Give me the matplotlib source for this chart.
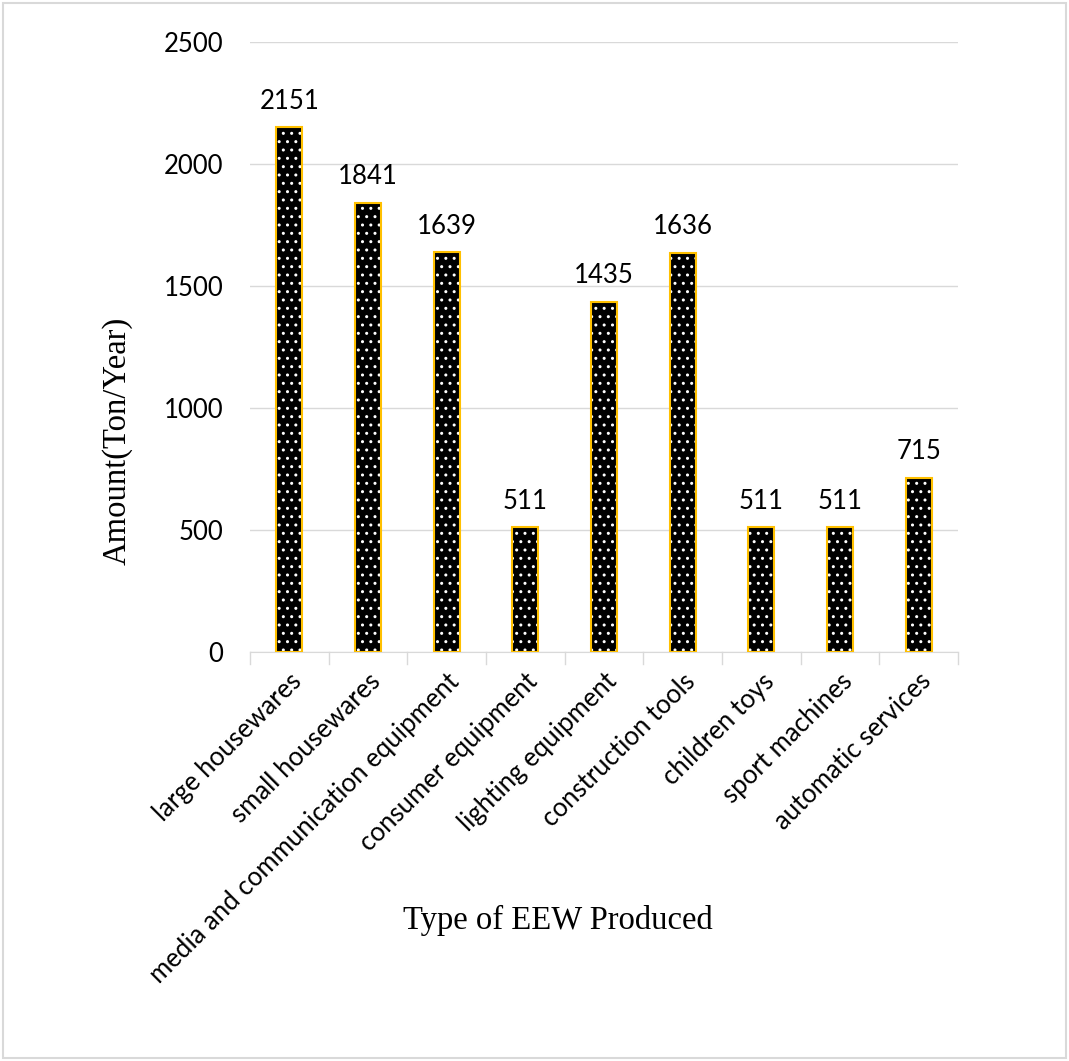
import matplotlib
matplotlib.use("Agg")
import matplotlib.pyplot as plt
from matplotlib.patches import Rectangle
import numpy as np

categories = ["large housewares", "small housewares", "media and communication equipment",
              "consumer equipment", "lighting equipment", "construction tools",
              "children toys", "sport machines", "automatic services"]
values = [2151, 1841, 1639, 511, 1435, 1636, 511, 511, 715]
yticks = [0, 500, 1000, 1500, 2000, 2500]

W, H = 1069, 1061
fig = plt.figure(figsize=(W/100, H/100), dpi=100)
ax = fig.add_axes([250/W, 1 - 652/H, (958-250)/W, (652-42)/H])

x = np.arange(len(categories))
bw = 0.33
ax.bar(x, values, width=bw, color="black", edgecolor="none", zorder=2)
ax.bar(x, values, width=bw, color="none", edgecolor="white", hatch="..", linewidth=0, zorder=3)
ax.bar(x, values, width=bw, color="none", edgecolor="#FFC000", linewidth=1.5, zorder=4)

tick_font = "Lato"
fs = 18.5
for xi, v in zip(x, values):
    ax.text(xi, v + 55, str(v), ha="center", va="bottom", fontsize=fs, family=tick_font)

ax.set_xlim(-0.5, len(categories) - 0.5)
ax.set_ylim(0, 2500)
ax.set_yticks(yticks)
ax.set_yticklabels([str(t) for t in yticks], fontsize=fs, family=tick_font)
ax.tick_params(axis="y", length=0, pad=19)
ax.yaxis.grid(True, color="#D9D9D9", linewidth=1, zorder=0)
ax.set_axisbelow(True)

ax.set_xticks(x)
ax.set_xticklabels(categories, rotation=45, ha="right", rotation_mode="anchor",
                   fontsize=fs, family=tick_font)
ax.tick_params(axis="x", length=0, pad=12)
# boundary tick marks
for b in np.arange(-0.5, len(categories), 1.0):
    ax.plot([b, b], [0, -0.02], transform=ax.get_xaxis_transform(), color="#D9D9D9",
            linewidth=1, clip_on=False, zorder=1)

for s in ["top", "right", "left"]:
    ax.spines[s].set_visible(False)
ax.spines["bottom"].set_color("#D9D9D9")

fig.text(117/W, 1 - 441/H, "Amount(Ton/Year)", rotation=90, ha="center", va="center",
         fontsize=23.5, family="Liberation Serif")
fig.text(558/W, 1 - 920/H, "Type of EEW Produced", ha="center", va="center",
         fontsize=23.5, family="Liberation Serif")

fig.patches.append(Rectangle((3/W, 3/H), (W-6)/W, (H-6)/H, transform=fig.transFigure,
                             fill=False, edgecolor="#D9D9D9", linewidth=1.5))

fig.savefig("out.png", dpi=100)
